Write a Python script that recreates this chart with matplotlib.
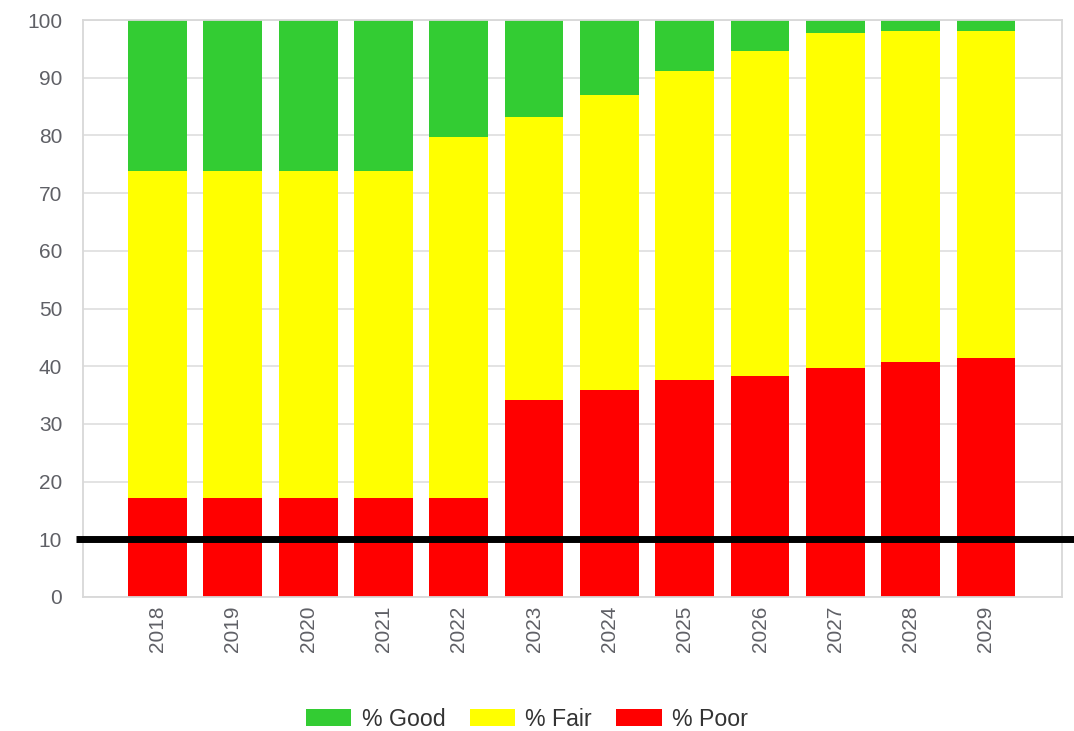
import matplotlib.pyplot as plt
import numpy as np

plt.rcParams['font.family'] = ['Liberation Sans', 'DejaVu Sans']

years = ['2018', '2019', '2020', '2021', '2022', '2023',
         '2024', '2025', '2026', '2027', '2028', '2029']
poor = [17.1, 17.1, 17.1, 17.1, 17.1, 34.1, 35.9, 37.6, 38.3, 39.7, 40.7, 41.4]
fair_top = [73.8, 73.8, 73.8, 73.8, 79.7, 83.2, 87.0, 91.2, 94.6, 97.7, 98.1, 98.1]
fair = [t - p for t, p in zip(fair_top, poor)]
good = [100 - t for t in fair_top]
threshold = 10

fig = plt.figure(figsize=(10.74, 7.31), dpi=100)
ax = fig.add_axes([83 / 1074, 134 / 731, 979 / 1074, 577 / 731])

x = np.arange(len(years))
w = 0.78
ax.bar(x, poor, w, color='#ff0000', label='% Poor', zorder=2)
ax.bar(x, fair, w, bottom=poor, color='#ffff00', label='% Fair', zorder=2)
ax.bar(x, good, w, bottom=fair_top, color='#33cc33', label='% Good', zorder=2)

ax.set_xlim(-0.99, 12.01)
ax.set_ylim(0, 100)
ax.set_yticks(range(0, 101, 10))
ax.set_xticks(x)
ax.set_xticklabels(years, rotation=90)
ax.tick_params(axis='both', length=0, colors='#5f6066', labelsize=15)
ax.tick_params(axis='y', pad=15)
ax.tick_params(axis='x', pad=6)
ax.grid(axis='y', color='#e0e0e0', linewidth=1.3, zorder=0)
for s in ax.spines.values():
    s.set_color('#d8d8d8')
    s.set_linewidth(1.3)

# threshold line running past the plot area
ax.axhline(threshold, xmin=-0.007, xmax=1.02, color='black', linewidth=5,
           solid_capstyle='butt', clip_on=False, zorder=3)

handles, labels = ax.get_legend_handles_labels()
order = [2, 1, 0]
fig.legend([handles[i] for i in order], [labels[i] for i in order],
           loc='center', bbox_to_anchor=(527 / 1074, 1 - 719 / 731), ncol=3,
           frameon=False, fontsize=16.7, handlelength=1.95, handleheight=0.72,
           columnspacing=1.05, handletextpad=0.45, labelcolor='#333333')

fig.savefig('out.png', dpi=100)
